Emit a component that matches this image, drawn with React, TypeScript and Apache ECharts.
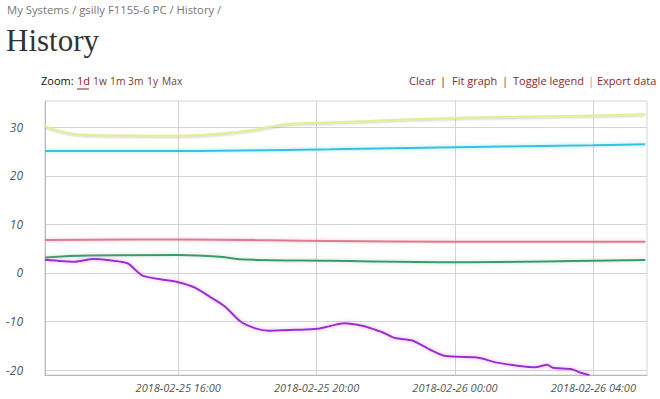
import React, { useEffect, useRef } from "react";
import * as echarts from "echarts";

// ---- data ----
const yTickValues = [-20, -10, 0, 10, 20, 30];
const xTickTimes = ["2018-02-25 16:00", "2018-02-25 20:00", "2018-02-26 00:00", "2018-02-26 04:00"];
const xRange = ["2018-02-25 12:09", "2018-02-26 05:33"];
const yRange = [-21.0, 35.4];

const yellowTimes = ["2018-02-25 12:09", "2018-02-25 12:35", "2018-02-25 13:10", "2018-02-25 14:19", "2018-02-25 16:00", "2018-02-25 17:56", "2018-02-25 18:40", "2018-02-25 19:14", "2018-02-25 20:24", "2018-02-26 00:00", "2018-02-26 04:00", "2018-02-26 05:30"];
const yellowValues = [30.2, 29.2, 28.5, 28.3, 28.25, 29.2, 30.1, 30.7, 31.0, 31.9, 32.4, 32.65];

const cyanTimes = ["2018-02-25 12:09", "2018-02-25 16:00", "2018-02-25 20:24", "2018-02-26 00:00", "2018-02-26 04:00", "2018-02-26 05:30"];
const cyanValues = [25.1, 25.1, 25.45, 25.9, 26.3, 26.5];

const pinkTimes = ["2018-02-25 12:09", "2018-02-25 16:00", "2018-02-25 20:24", "2018-02-26 00:00", "2018-02-26 05:30"];
const pinkValues = [6.8, 6.9, 6.6, 6.45, 6.45];

const greenTimes = ["2018-02-25 12:09", "2018-02-25 13:27", "2018-02-25 16:00", "2018-02-25 17:12", "2018-02-25 17:56", "2018-02-25 20:24", "2018-02-26 00:00", "2018-02-26 04:00", "2018-02-26 05:30"];
const greenValues = [3.2, 3.6, 3.7, 3.35, 2.75, 2.5, 2.2, 2.5, 2.65];

const purpleTimes = ["2018-02-25 12:09", "2018-02-25 13:01", "2018-02-25 13:33", "2018-02-25 14:02", "2018-02-25 14:32", "2018-02-25 14:49", "2018-02-25 14:59", "2018-02-25 15:29", "2018-02-25 16:00", "2018-02-25 16:29", "2018-02-25 16:55", "2018-02-25 17:21", "2018-02-25 17:48", "2018-02-25 18:14", "2018-02-25 18:36", "2018-02-25 19:23", "2018-02-25 20:01", "2018-02-25 20:24", "2018-02-25 20:48", "2018-02-25 21:21", "2018-02-25 21:42", "2018-02-25 21:54", "2018-02-25 22:16", "2018-02-25 22:46", "2018-02-25 23:17", "2018-02-25 23:43", "2018-02-26 00:35", "2018-02-26 00:47", "2018-02-26 01:13", "2018-02-26 02:19", "2018-02-26 02:40", "2018-02-26 02:50", "2018-02-26 03:23", "2018-02-26 03:37", "2018-02-26 03:53"];
const purpleValues = [2.7, 2.3, 2.9, 2.6, 2.0, 0.27, -0.6, -1.3, -1.9, -3.0, -4.9, -6.9, -10.0, -11.4, -11.9, -11.7, -11.5, -10.9, -10.35, -10.9, -11.7, -12.2, -13.4, -13.9, -15.8, -17.1, -17.35, -17.6, -18.45, -19.4, -18.9, -19.5, -19.8, -20.5, -21.0];

const breadcrumb = "My Systems / gsilly F1155-6 PC / History /";
const pageTitle = "History";
const zoomLinks = ["1w", "1m", "3m", "1y", "Max"];

const toMs = (s: string) => new Date(s.replace(" ", "T")).getTime();
const pairs = (t: string[], v: number[]) => t.map((s, i) => [toMs(s), v[i]]);

const TEXT_FONT = "Open Sans";

export default function App() {
  const ref = useRef<HTMLDivElement>(null);
  useEffect(() => {
    if (!ref.current) return;
    const chart = echarts.init(ref.current, null, { renderer: "svg" });

    const mkLine = (name: string, t: string[], v: number[], color: string, glow: string, smooth: number, blur = 4, offY = 0) => ({
      name,
      type: "line",
      data: pairs(t, v),
      showSymbol: false,
      smooth,
      lineStyle: { color, width: 2, shadowColor: glow, shadowBlur: blur, shadowOffsetY: offY },
      itemStyle: { color },
      z: 3,
    });

    const linkColor = "#8b2a2a";
    const zoomX = [93, 110, 128, 147, 162];

    chart.setOption({
      animation: false,
      grid: { left: 45, right: 13, top: 101, bottom: 24, show: true, borderColor: "#d4d4d4", borderWidth: 1 },
      xAxis: {
        type: "value",
        min: toMs(xRange[0]),
        max: toMs(xRange[1]),
        axisLine: { show: true, onZero: false, lineStyle: { color: "#b8b8b8" } },
        axisTick: { show: false, customValues: xTickTimes.map(toMs) },
        axisLabel: {
          customValues: xTickTimes.map(toMs),
          formatter: (v: number) => echarts.time.format(v, "{yyyy}-{MM}-{dd} {HH}:{mm}", false),
          fontStyle: "italic",
          fontFamily: TEXT_FONT,
          fontSize: 11,
          color: "#555",
          margin: 7,
          hideOverlap: false,
        },
        splitLine: { show: true, lineStyle: { color: "#d4d4d4" } },
      },
      yAxis: {
        type: "value",
        min: yRange[0],
        max: yRange[1],
        axisLine: { show: true, onZero: false, lineStyle: { color: "#b8b8b8" } },
        axisTick: { show: false, customValues: yTickValues },
        axisLabel: {
          customValues: yTickValues,
          fontStyle: "italic",
          fontFamily: TEXT_FONT,
          fontSize: 12,
          color: "#555",
          margin: 22,
        },
        splitLine: { show: true, lineStyle: { color: "#d4d4d4" } },
      },
      series: [
        mkLine("yellow", yellowTimes, yellowValues, "#e6ee94", "rgba(140,140,100,0.45)", 0.4, 2, 1),
        mkLine("cyan", cyanTimes, cyanValues, "#33c3de", "rgba(120,215,240,0.7)", 0.4),
        mkLine("pink", pinkTimes, pinkValues, "#e07a92", "rgba(240,170,185,0.7)", 0.4),
        mkLine("green", greenTimes, greenValues, "#3c9870", "rgba(150,210,170,0.7)", 0.4),
        mkLine("purple", purpleTimes, purpleValues, "#9a2ed0", "rgba(225,150,240,0.8)", 0.25),
      ],
      graphic: [
        { type: "text", left: 7, top: 4, style: { text: breadcrumb, fontFamily: TEXT_FONT, fontSize: 11.3, fill: "#777" } },
        { type: "text", left: 6, top: 25, style: { text: pageTitle, fontFamily: "Liberation Serif", fontSize: 31, fill: "#333" } },
        { type: "text", left: 41, top: 75, style: { text: "Zoom:", fontFamily: TEXT_FONT, fontSize: 11, fill: "#111" } },
        { type: "text", left: 77, top: 75, style: { text: "1d", fontFamily: TEXT_FONT, fontSize: 11, fill: "#8b1a1a" } },
        { type: "line", shape: { x1: 77, y1: 89, x2: 89, y2: 89 }, style: { stroke: "#8b1a1a", lineWidth: 1 } },
        ...zoomLinks.map((t, i) => ({ type: "text", left: zoomX[i], top: 75.5, style: { text: t, fontFamily: TEXT_FONT, fontSize: 10.3, fill: "#7a3b2e" } })),
        { type: "text", left: 409, top: 75, style: { text: "Clear", fontFamily: TEXT_FONT, fontSize: 11, fill: linkColor } },
        { type: "text", left: 440, top: 75, style: { text: "|", fontFamily: TEXT_FONT, fontSize: 11, fill: "#333" } },
        { type: "text", left: 452, top: 75, style: { text: "Fit graph", fontFamily: TEXT_FONT, fontSize: 11, fill: linkColor } },
        { type: "text", left: 502, top: 75, style: { text: "|", fontFamily: TEXT_FONT, fontSize: 11, fill: "#555" } },
        { type: "text", left: 513, top: 75, style: { text: "Toggle legend", fontFamily: TEXT_FONT, fontSize: 11, fill: linkColor } },
        { type: "text", left: 588, top: 75, style: { text: "|", fontFamily: TEXT_FONT, fontSize: 11, fill: "#999" } },
        { type: "text", left: 597, top: 75, style: { text: "Export data", fontFamily: TEXT_FONT, fontSize: 11, fill: linkColor } },
      ],
    });
    return () => chart.dispose();
  }, []);
  return (
    <div
      ref={ref}
      style={{ position: "fixed", left: 0, top: 0, width: 660, height: 399, background: "#fff" }}
    />
  );
}
